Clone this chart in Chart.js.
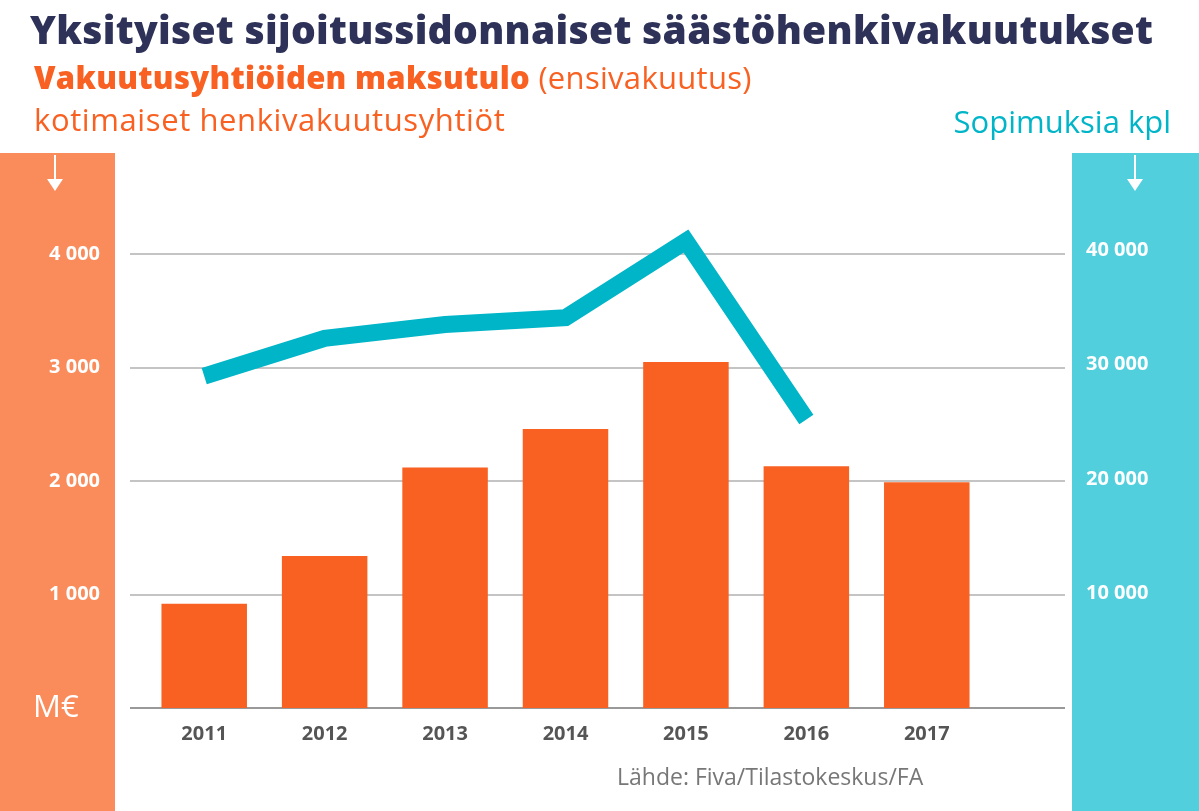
<!DOCTYPE html>
<html>
<head>
<meta charset="utf-8">
<script src="https://cdn.jsdelivr.net/npm/chart.js"></script>
<style>
  body { margin: 0; width: 1199px; height: 811px; background: #fff; font-family: "Open Sans", "Noto Sans", sans-serif; overflow: hidden; position: relative; }
  .panel { position: absolute; top: 153px; height: 658px; }
  #leftPanel { left: 0; width: 115px; background: #FA8C5C; }
  #rightPanel { left: 1072px; width: 127px; background: #52CFDD; }
  canvas { position: absolute; left: 0; top: 0; }
  .txt { position: absolute; white-space: nowrap; }
  #title { left: 30px; top: 2px; font-size: 39px; font-weight: 800; color: #2E3258; letter-spacing: 0.3px; }
  #sub1 { left: 34px; top: 56px; font-size: 31px; color: #F86122; letter-spacing: 0.3px; }
  #sub1 b { font-weight: 800; }
  #sub2 { left: 34px; top: 98px; font-size: 31px; color: #F86122; letter-spacing: 0.6px; }
  #unitR { right: 28px; top: 100px; font-size: 31px; color: #00B5C8; }
  #meur { left: 33px; top: 684px; font-size: 31px; color: #fff; }
  #src { left: 617px; top: 760px; font-size: 23px; color: #777; }
  .arrow { position: absolute; top: 155px; width: 2px; height: 28px; background: #fff; }
  .arrow::after { content: ""; position: absolute; left: -7px; top: 24px; border-left: 8px solid transparent; border-right: 8px solid transparent; border-top: 12px solid #fff; }
</style>
</head>
<body>
<div class="panel" id="leftPanel"></div>
<div class="panel" id="rightPanel"></div>
<div class="arrow" style="left:54px"></div>
<div class="arrow" style="left:1134px"></div>
<canvas id="chart" width="1199" height="811"></canvas>
<div class="txt" id="title">Yksityiset sijoitussidonnaiset säästöhenkivakuutukset</div>
<div class="txt" id="sub1"><b>Vakuutusyhtiöiden maksutulo</b> (ensivakuutus)</div>
<div class="txt" id="sub2">kotimaiset henkivakuutusyhtiöt</div>
<div class="txt" id="unitR">Sopimuksia kpl</div>
<div class="txt" id="meur">M€</div>
<div class="txt" id="src">Lähde: Fiva/Tilastokeskus/FA</div>
<script>
const years = ['2011', '2012', '2013', '2014', '2015', '2016', '2017'];
const premiums = [920, 1340, 2120, 2460, 3050, 2130, 1990];
const contracts = [29000, 32300, 33500, 34100, 40800, 25200, null];
const leftTicks = [1000, 2000, 3000, 4000];
const rightTicks = [10000, 20000, 30000, 40000];
const gridValues = [0, 1000, 2000, 3000, 4000];

const fmt = v => String(v).replace(/\B(?=(\d{3})+(?!\d))/g, ' ');

const gridPlugin = {
  id: 'fullGrid',
  beforeDatasetsDraw(chart) {
    const ctx = chart.ctx;
    const y = chart.scales.y;
    ctx.save();
    gridValues.forEach(v => {
      const py = Math.round(y.getPixelForValue(v));
      ctx.strokeStyle = v === 0 ? '#999' : '#c4c4c4';
      ctx.lineWidth = 2;
      ctx.beginPath();
      ctx.moveTo(130, py);
      ctx.lineTo(1065, py);
      ctx.stroke();
    });
    ctx.restore();
  }
};

new Chart(document.getElementById('chart'), {
  data: {
    labels: years,
    datasets: [
      { type: 'line', data: contracts, yAxisID: 'y2', borderColor: '#00B5C8', borderWidth: 17, pointRadius: 0, tension: 0, borderJoinStyle: 'miter', order: 0 },
      { type: 'bar', data: premiums, yAxisID: 'y', backgroundColor: '#F86122', barPercentage: 0.71, categoryPercentage: 1, order: 1 }
    ]
  },
  options: {
    responsive: false,
    animation: false,
    layout: { padding: { top: 153, left: 0, right: 0, bottom: 0 } },
    plugins: { legend: { display: false }, tooltip: { enabled: false } },
    scales: {
      x: {
        offset: true,
        grid: { display: false },
        border: { display: false },
        ticks: { color: '#555', font: { family: 'Open Sans', size: 20, weight: 'bold' }, padding: 6 },
        afterFit(s) { s.height = 52; }
      },
      y: {
        position: 'left', min: 0, max: 4892,
        grid: { display: false }, border: { display: false },
        afterBuildTicks(s) { s.ticks = leftTicks.map(v => ({ value: v })); },
        afterFit(s) { s.width = 144; },
        ticks: { color: '#fff', padding: 36, font: { family: 'Open Sans', size: 20, weight: 'bold' }, callback: v => fmt(v) }
      },
      y2: {
        position: 'right', min: 0, max: 48490,
        grid: { display: false }, border: { display: false },
        afterBuildTicks(s) { s.ticks = rightTicks.map(v => ({ value: v })); },
        afterFit(s) { s.width = 212; },
        ticks: { color: '#fff', padding: 91, font: { family: 'Open Sans', size: 20, weight: 'bold' }, callback: v => fmt(v) }
      }
    }
  },
  plugins: [gridPlugin]
});
</script>
</body>
</html>
